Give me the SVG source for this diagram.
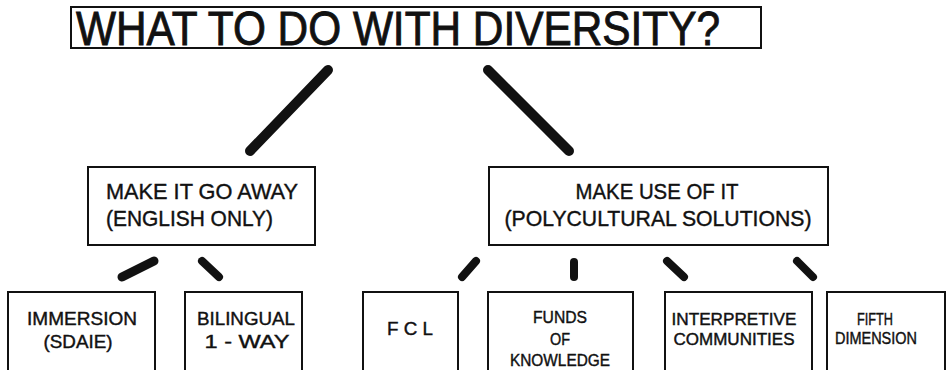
<svg xmlns="http://www.w3.org/2000/svg" width="948" height="370" viewBox="0 0 948 370">
<style>
.box{fill:none;stroke:#111;stroke-width:2}
.t{font-family:"Liberation Sans",Arial,sans-serif;fill:#111;stroke:#111;stroke-width:0.4}
.title{font-size:49px;stroke-width:0.9}
.mid{font-size:22px}
.bot{font-size:18px}
.sm{font-size:16px}
.c{text-anchor:middle}
.con{stroke:#111;stroke-linecap:round;fill:none}
</style>
<rect width="948" height="370" fill="#fff"/>
<g id="title">
<rect class="box" x="71" y="7" width="690" height="41" stroke-width="2.5"/>
<text class="t title" x="76" y="45" textLength="644" lengthAdjust="spacingAndGlyphs">WHAT TO DO WITH DIVERSITY?</text>
</g>
<g id="connectors">
<line class="con" stroke-width="10" x1="328" y1="70" x2="250" y2="151"/>
<line class="con" stroke-width="10" x1="488" y1="70" x2="569" y2="151"/>
<line class="con" stroke-width="9" x1="122" y1="277" x2="154" y2="261"/>
<line class="con" stroke-width="8" x1="202" y1="261" x2="219" y2="277"/>
<line class="con" stroke-width="8" x1="462" y1="277" x2="476" y2="261"/>
<line class="con" stroke-width="8" x1="574" y1="262" x2="574" y2="277"/>
<line class="con" stroke-width="8" x1="667" y1="261" x2="684" y2="277"/>
<line class="con" stroke-width="8" x1="797" y1="261" x2="813" y2="277"/>
</g>
<g id="away">
<rect class="box" x="88" y="167" width="227" height="78"/>
<text class="t mid" x="106" y="199" textLength="192" lengthAdjust="spacingAndGlyphs">MAKE IT GO AWAY</text>
<text class="t mid" x="106" y="226" textLength="167" lengthAdjust="spacingAndGlyphs">(ENGLISH ONLY)</text>
</g>
<g id="use">
<rect class="box" x="489" y="167" width="339" height="78"/>
<text class="t mid c" x="657" y="199" textLength="163" lengthAdjust="spacingAndGlyphs">MAKE USE OF IT</text>
<text class="t mid c" x="658" y="226" textLength="307" lengthAdjust="spacingAndGlyphs">(POLYCULTURAL SOLUTIONS)</text>
</g>
<g id="immersion">
<rect class="box" x="8" y="292" width="147" height="90"/>
<text class="t bot c" x="82" y="325" textLength="110" lengthAdjust="spacingAndGlyphs">IMMERSION</text>
<text class="t bot c" x="78" y="348" textLength="69" lengthAdjust="spacingAndGlyphs">(SDAIE)</text>
</g>
<g id="bilingual">
<rect class="box" x="185" y="292" width="117" height="90"/>
<text class="t bot c" x="246" y="325" textLength="98" lengthAdjust="spacingAndGlyphs">BILINGUAL</text>
<text class="t bot c" x="247" y="348" textLength="85" lengthAdjust="spacingAndGlyphs">1 - WAY</text>
</g>
<g id="fcl">
<rect class="box" x="363" y="292" width="95" height="90"/>
<text class="t bot c" x="410" y="335" textLength="46" lengthAdjust="spacingAndGlyphs">F C L</text>
</g>
<g id="funds">
<rect class="box" x="488" y="292" width="145" height="90"/>
<text class="t sm c" x="560" y="323" textLength="54" lengthAdjust="spacingAndGlyphs">FUNDS</text>
<text class="t sm c" x="560" y="345" textLength="20" lengthAdjust="spacingAndGlyphs">OF</text>
<text class="t sm c" x="560" y="366" textLength="100" lengthAdjust="spacingAndGlyphs">KNOWLEDGE</text>
</g>
<g id="interpretive">
<rect class="box" x="665" y="292" width="147" height="90"/>
<text class="t sm c" x="734" y="325" textLength="125" lengthAdjust="spacingAndGlyphs">INTERPRETIVE</text>
<text class="t sm c" x="734" y="345" textLength="121" lengthAdjust="spacingAndGlyphs">COMMUNITIES</text>
</g>
<g id="fifth">
<rect class="box" x="827" y="292" width="118" height="90"/>
<text class="t sm c" x="875" y="325" textLength="36" lengthAdjust="spacingAndGlyphs">FIFTH</text>
<text class="t sm c" x="876" y="344" textLength="82" lengthAdjust="spacingAndGlyphs">DIMENSION</text>
</g>
</svg>
